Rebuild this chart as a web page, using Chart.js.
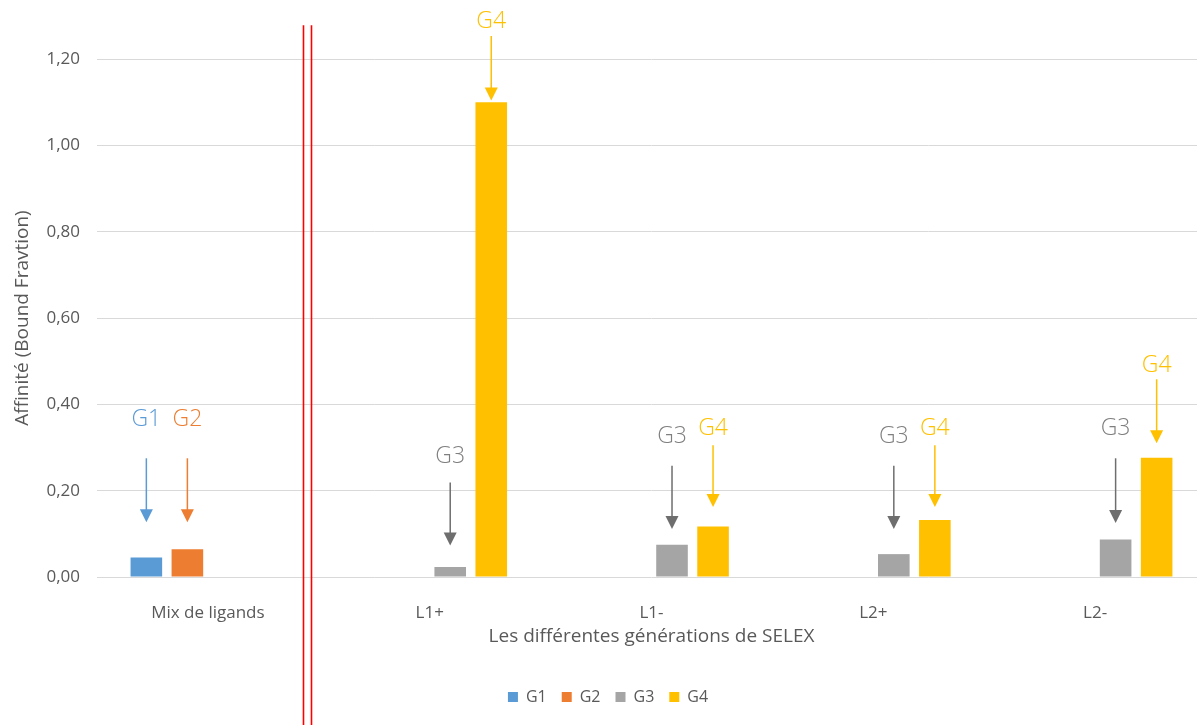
<!DOCTYPE html>
<html>
<head>
<meta charset="utf-8">
<script src="https://cdn.jsdelivr.net/npm/chart.js@4.4.1/dist/chart.umd.min.js"></script>
<style>
  html, body { margin: 0; padding: 0; background: #ffffff; overflow: hidden; }
  #wrap { position: relative; width: 1206px; height: 725px; }
</style>
</head>
<body>
<div id="wrap"><canvas id="c"></canvas></div>
<script>
// ---- Data ----
const categories = ['Mix de ligands', 'L1+', 'L1-', 'L2+', 'L2-'];
const seriesNames = ['G1', 'G2', 'G3', 'G4'];
const g1Values = [0.045, null, null, null, null];
const g2Values = [0.064, null, null, null, null];
const g3Values = [null, 0.023, 0.075, 0.053, 0.087];
const g4Values = [null, 1.10, 0.117, 0.132, 0.276];
const yTickLabels = ['0,00', '0,20', '0,40', '0,60', '0,80', '1,00', '1,20'];

// annotations (arrow + label above bars), in data units
const annotCategory = [0, 0, 1, 1, 2, 2, 3, 3, 4, 4];
const annotSeries   = [0, 1, 2, 3, 2, 3, 2, 3, 2, 3];
const annotLabelY   = [0.368, 0.368, 0.284, 1.291, 0.330, 0.349, 0.330, 0.349, 0.349, 0.495];
const annotArrowFrom= [0.275, 0.275, 0.219, 1.253, 0.258, 0.305, 0.258, 0.305, 0.275, 0.458];
const annotArrowTo  = [0.127, 0.127, 0.073, 1.104, 0.111, 0.162, 0.111, 0.162, 0.125, 0.310];
const separatorX = 0.447;     // category units
const separatorTop = 1.278;   // value units

// ---- Styles ----
const barColors = ['#5B9BD5', '#ED7D31', '#A5A5A5', '#FFC000'];
const labelColors = ['#5B9BD5', '#ED7D31', '#7F7F7F', '#FFC000'];
const arrowColors = ['#5B9BD5', '#ED7D31', '#6E6E6E', '#FFC000'];
const textColor = '#595959';
const FONT = "'Open Sans', 'Noto Sans', 'DejaVu Sans', sans-serif";

const annotationPlugin = {
  id: 'annot',
  afterDraw(chart) {
    const ctx = chart.ctx;
    const xs = chart.scales.x, ys = chart.scales.y;
    ctx.save();
    // double red separator
    const sx = xs.getPixelForValue(separatorX);
    const sTop = ys.getPixelForValue(separatorTop);
    ctx.strokeStyle = '#FF0000';
    ctx.lineWidth = 1.6;
    [-4, 4].forEach(d => {
      ctx.beginPath();
      ctx.moveTo(Math.round(sx + d) + 0.5, sTop);
      ctx.lineTo(Math.round(sx + d) + 0.5, chart.height);
      ctx.stroke();
    });
    // arrows + labels
    const fs = 23;
    ctx.font = '300 ' + fs + 'px ' + FONT;
    ctx.textAlign = 'center';
    ctx.textBaseline = 'alphabetic';
    for (let i = 0; i < annotCategory.length; i++) {
      const s = annotSeries[i];
      const bar = chart.getDatasetMeta(s).data[annotCategory[i]];
      const x = bar.x;
      const yl = ys.getPixelForValue(annotLabelY[i]);
      const y0 = ys.getPixelForValue(annotArrowFrom[i]);
      const y1 = ys.getPixelForValue(annotArrowTo[i]);
      ctx.fillStyle = labelColors[s];
      ctx.fillText(seriesNames[s], x, yl + fs * 0.357);
      const head = 13, hw = 6.5;
      ctx.strokeStyle = arrowColors[s];
      ctx.fillStyle = arrowColors[s];
      ctx.lineWidth = 1.5;
      ctx.beginPath();
      ctx.moveTo(x, y0);
      ctx.lineTo(x, y1 - head + 1);
      ctx.stroke();
      ctx.beginPath();
      ctx.moveTo(x - hw, y1 - head);
      ctx.lineTo(x + hw, y1 - head);
      ctx.lineTo(x, y1);
      ctx.closePath();
      ctx.fill();
    }
    ctx.restore();
  }
};

const valueLists = [g1Values, g2Values, g3Values, g4Values];
const datasets = seriesNames.map((name, i) => ({
  label: name,
  data: valueLists[i],
  backgroundColor: barColors[i],
  borderWidth: 0,
  categoryPercentage: 0.74,
  barPercentage: 0.77
}));

new Chart(document.getElementById('c'), {
  type: 'bar',
  data: { labels: categories, datasets: datasets },
  plugins: [annotationPlugin],
  options: {
    responsive: true,
    maintainAspectRatio: false,
    animation: false,
    layout: { padding: { top: 59, left: 10, right: 0, bottom: 10 } },
    plugins: {
      tooltip: { enabled: false },
      legend: {
        position: 'bottom',
        labels: {
          boxWidth: 10,
          boxHeight: 10,
          padding: 15,
          color: textColor,
          font: { family: FONT, size: 16 }
        }
      }
    },
    scales: {
      x: {
        grid: { display: false },
        border: { display: false },
        ticks: {
          color: textColor,
          padding: 18,
          font: { family: FONT, size: 17 },
          maxRotation: 0
        },
        title: {
          display: true,
          text: 'Les différentes générations de SELEX',
          color: textColor,
          font: { family: FONT, size: 19 },
          padding: { top: 0, bottom: 26 }
        },
        afterFit(scale) { scale.height = 97; }
      },
      y: {
        min: 0,
        max: 1.2,
        grid: { color: '#D9D9D9', lineWidth: 1, drawTicks: false },
        border: { display: false },
        ticks: {
          stepSize: 0.2,
          color: textColor,
          padding: 17,
          font: { family: FONT, size: 17 },
          callback: (v, idx) => yTickLabels[idx]
        },
        title: {
          display: true,
          text: 'Affinité (Bound Fravtion)',
          color: textColor,
          font: { family: FONT, size: 19 },
          padding: { top: 1, bottom: 0 }
        },
        afterFit(scale) { scale.width = 87; }
      }
    }
  }
});
</script>
</body>
</html>
